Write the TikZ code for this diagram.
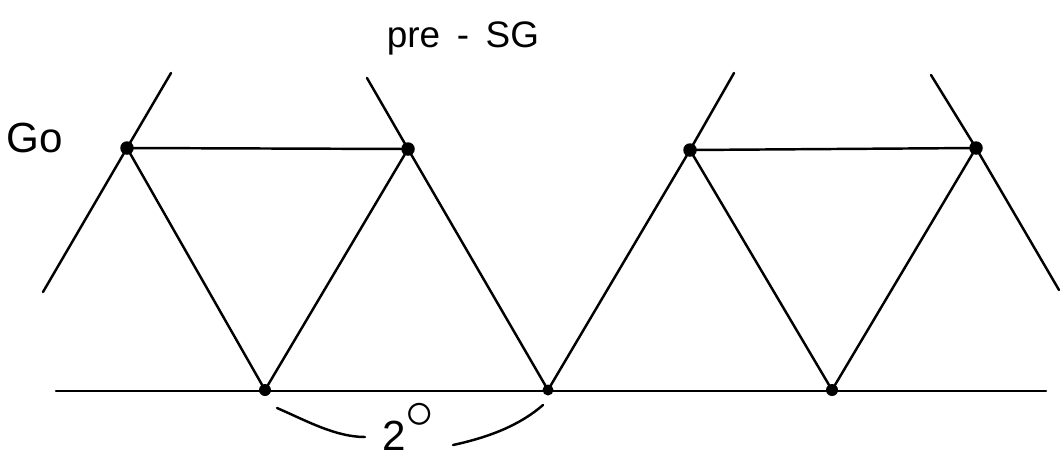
\documentclass[tikz,border=0pt]{standalone}
\usepackage{fontspec}
\setmainfont{Liberation Sans}
\begin{document}
\begin{tikzpicture}[x=0.02cm,y=-0.02cm,
  dot/.style={circle,fill=black,inner sep=0pt,minimum size=0.27cm},
  edge/.style={line width=1.4pt,line cap=round},
  lbl/.style={inner sep=0pt,font=\fontsize{20}{24}\selectfont}]
\useasboundingbox (0,0) rectangle (1060,457);
% nodes
\node[dot] (t1) at (127,148) {};
\node[dot] (t2) at (408,149) {};
\node[dot] (t3) at (690,150) {};
\node[dot] (t4) at (976,148) {};
\node[dot,minimum size=0.24cm] (b1) at (265,390) {};
\node[dot,minimum size=0.22cm] (b2) at (548,390) {};
\node[dot,minimum size=0.24cm] (b3) at (832,390) {};
% free ends
\coordinate (e1) at (43,292);
\coordinate (e2) at (171,73);
\coordinate (e3) at (367,78);
\coordinate (e4) at (734,73);
\coordinate (e5) at (931,75);
\coordinate (e6) at (1059,290);
\coordinate (l0) at (56,391);
\coordinate (r0) at (1046,391);
% lines
\draw[edge] (l0) -- (r0);
\draw[edge] (t1.center) -- (t2.center);
\draw[edge] (t3.center) -- (t4.center);
\draw[edge] (e1) -- (t1.center) -- (e2);
\draw[edge] (t1.center) -- (b1.center) -- (t2.center);
\draw[edge] (e3) -- (t2.center) -- (b2.center) -- (t3.center) -- (e4);
\draw[edge] (t3.center) -- (b3.center) -- (t4.center);
\draw[edge] (e5) -- (t4.center) -- (e6);
% labels
\node[lbl,font=\fontsize{24}{28}\selectfont] (go) at (35,138) {Go};
\node[lbl,font=\fontsize{21}{25}\selectfont] (pre) at (463,38) {pre\hspace{0.45em}-\hspace{0.45em}SG};
\node[lbl,anchor=base west,font=\fontsize{24}{28}\selectfont] (two) at (382,450) {2\raisebox{0.5em}{\scalebox{1.3}{$\circ$}}};
% curves
\coordinate (c1s) at (277,408);
\coordinate (c1e) at (365,437);
\coordinate (c2s) at (453,445);
\coordinate (c2e) at (543,405);
\draw[edge] (c1s) .. controls (305,420) and (335,437) .. (c1e);
\draw[edge] (c2s) .. controls (490,437) and (520,425) .. (c2e);
\end{tikzpicture}
\end{document}
